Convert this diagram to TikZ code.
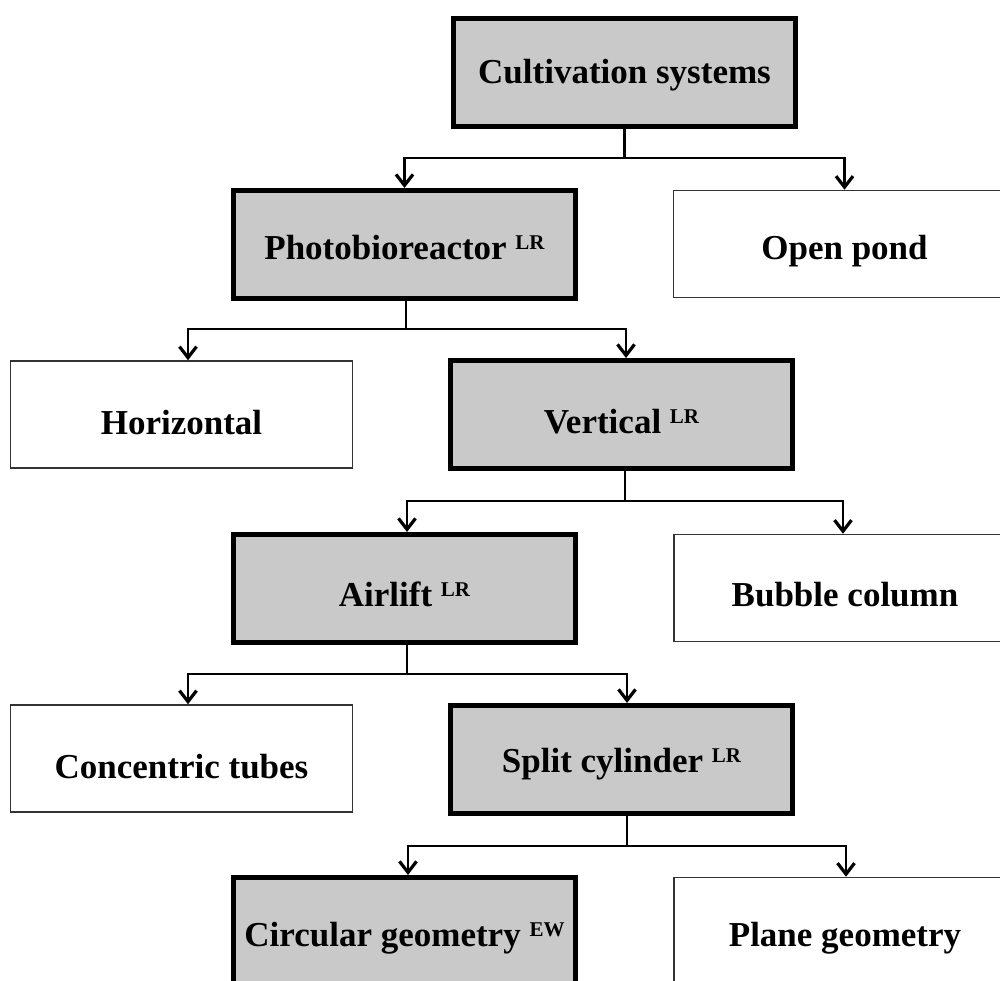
\documentclass[tikz,border=0pt]{standalone}
\usepackage{fontspec}
\setmainfont{Liberation Serif}
\usetikzlibrary{arrows.meta,calc}

% raised tag after a box title
\newcommand{\tagmark}[1]{\raisebox{10pt}{\fontsize{21}{21}\selectfont #1}}

\tikzset{
  boxbase/.style={rectangle, inner sep=0pt, text depth=8pt,
    font=\fontsize{35}{42}\selectfont\bfseries, align=center},
  keybox/.style={boxbase, draw=black, line width=5pt, fill=boxgray,
    minimum width=342pt, minimum height=108pt},
  leafbox/.style={boxbase, draw=black!80, line width=1.5pt, fill=white,
    minimum width=342pt, minimum height=107pt},
  wire/.style={draw=black, line width=2.5pt},
  feed/.style={wire, -{Straight Barb[length=11pt,width=17pt,line width=3.2pt]}},
}
\definecolor{boxgray}{RGB}{201,201,201}

\begin{document}
\begin{tikzpicture}[x=1pt,y=-1pt]
\useasboundingbox (0,0) rectangle (1000,981);
\clip (0,0) rectangle (1000,981);

% boxes (text height sets where the baseline sits in each box)
\node[keybox, text height=30pt]  (cult)   at (624.5,72.5)  {Cultivation systems};
\node[keybox, text height=38pt]  (photo)  at (404.5,244.5) {Photobioreactor \tagmark{LR}};
\node[leafbox, text height=40pt] (pond)   at (844.5,244)   {Open pond};
\node[leafbox, text height=48pt] (horiz)  at (181.5,414.5) {Horizontal};
\node[keybox, text height=45pt]  (vert)   at (621.5,414.5) {Vertical \tagmark{LR}};
\node[keybox, text height=44pt]  (air)    at (404.5,588.5) {Airlift \tagmark{LR}};
\node[leafbox, text height=45pt] (bubble) at (845,588)     {Bubble column};
\node[leafbox, text height=47pt] (conc)   at (181.5,758.5) {Concentric tubes};
\node[keybox, text height=34pt]  (split)  at (621.5,759.5) {Split cylinder \tagmark{LR}};
\node[keybox, text height=38pt]  (circ)   at (404.5,931.5) {Circular geometry \tagmark{EW}};
\node[leafbox, text height=38pt] (plane)  at (845,931)     {Plane geometry};

% branch junctions below each parent
\coordinate (j1) at ($(cult.south)+(0,29)$);
\coordinate (j2) at ($(photo.south)+(1.5,28)$);
\coordinate (j3) at ($(vert.south)+(3.5,30)$);
\coordinate (j4) at ($(air.south)+(2.5,29)$);
\coordinate (j5) at ($(split.south)+(5.5,30)$);

% stems
\draw[wire] (cult.south) -- (j1);
\draw[wire] ($(photo.south)+(1.5,0)$) -- (j2);
\draw[wire] ($(vert.south)+(3.5,0)$) -- (j3);
\draw[wire] ($(air.south)+(2.5,0)$) -- (j4);
\draw[wire] ($(split.south)+(5.5,0)$) -- (j5);

% arrows to the children
\draw[feed] (j1) -| (photo.north);
\draw[feed] (j1) -| (pond.north);
\draw[feed] (j2) -| ($(horiz.north)+(6.5,0)$);
\draw[feed] (j2) -| ($(vert.north)+(4.5,0)$);
\draw[feed] (j3) -| ($(air.north)+(2.5,0)$);
\draw[feed] (j3) -| ($(bubble.north)+(-2,0)$);
\draw[feed] (j4) -| ($(conc.north)+(6.5,0)$);
\draw[feed] (j4) -| ($(split.north)+(5.5,0)$);
\draw[feed] (j5) -| ($(circ.north)+(3.5,0)$);
\draw[feed] (j5) -| ($(plane.north)+(1,0)$);
\end{tikzpicture}
\end{document}
